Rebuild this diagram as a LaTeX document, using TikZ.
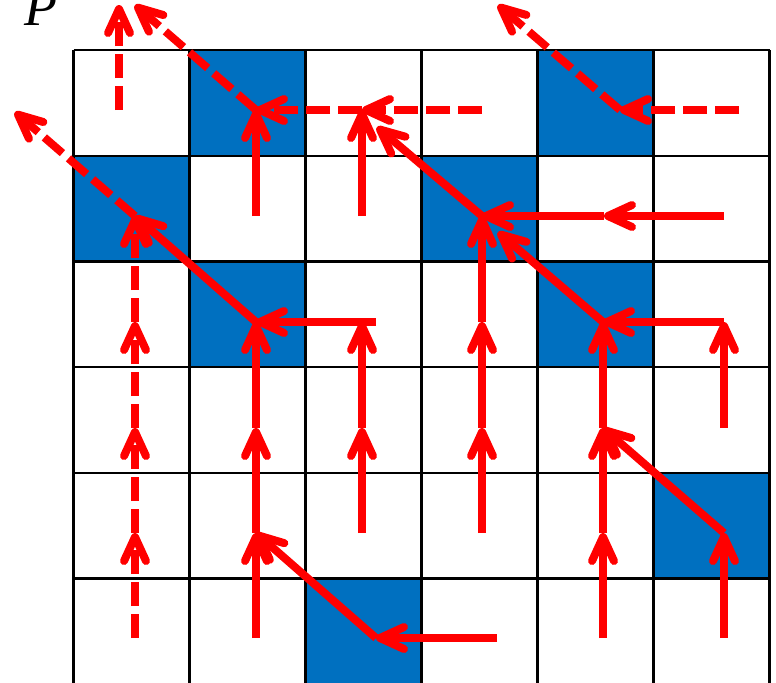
\documentclass[tikz,border=0pt]{standalone}
\usepackage{fontspec}
\setmainfont{Liberation Serif}
\usetikzlibrary{arrows.meta}
\definecolor{cellblue}{HTML}{0070C0}
\tikzset{
  arr/.style={draw=red, line width=4pt, -{Straight Barb[length=12pt,width=11pt,round]}},
  dsh/.style={arr, dash pattern=on 12pt off 4pt},
  gridline/.style={draw=black, line width=1.1pt},
}
\begin{document}
\begin{tikzpicture}[x=0.5pt,y=-0.5pt]
\useasboundingbox (0,0) rectangle (776,682);
% blue cells (col,row)
\foreach \c/\r in {1/0,4/0,0/1,3/1,1/2,4/2,5/4,2/5}
  \fill[cellblue] ({73.5+116*\c},{50+105.7*\r}) rectangle ++(116,105.7);
% grid
\foreach \k in {0,...,6}
  \draw[gridline] ({73.5+116*\k},50) -- ({73.5+116*\k},690);
\foreach \k in {0,...,5}
  \draw[gridline] (73.5,{50+105.7*\k}) -- (769.5,{50+105.7*\k});
% label
\node[anchor=base west, inner sep=0pt, font=\fontsize{27}{27}\selectfont\itshape] (lab) at (24,25) {P};
% points
\coordinate (T0) at (119,110); \coordinate (T0e) at (119,5);
\coordinate (A) at (256,110); \coordinate (Ae) at (135,5);
\coordinate (B) at (362,110); \coordinate (B0) at (482,110);
\coordinate (E) at (620,110); \coordinate (E0) at (739,110); \coordinate (Ee) at (498,5);
\coordinate (D) at (135,216); \coordinate (De) at (15,112);
\coordinate (P11) at (256,216); \coordinate (P12) at (362,216);
\coordinate (C) at (482,216); \coordinate (Cm) at (604,216); \coordinate (C0) at (724,216);
\coordinate (Bt) at (377,127);
\coordinate (P20) at (135,322); \coordinate (F) at (256,322); \coordinate (F0) at (376,322);
\coordinate (P22) at (362,322); \coordinate (P23) at (482,322);
\coordinate (G) at (603,322); \coordinate (G0) at (724,322); \coordinate (Gt) at (498,232);
\coordinate (P25) at (724,322);
\coordinate (P30) at (135,428); \coordinate (P31) at (256,428); \coordinate (P32) at (362,428);
\coordinate (P33) at (482,428); \coordinate (H) at (603,428); \coordinate (P35) at (724,428);
\coordinate (P40) at (135,533); \coordinate (J) at (256,533); \coordinate (P42) at (362,533);
\coordinate (P43) at (482,533); \coordinate (P44) at (603,533); \coordinate (I) at (724,533);
\coordinate (P50) at (135,638); \coordinate (P51) at (256,638); \coordinate (K) at (376,638);
\coordinate (K0) at (497,638); \coordinate (P54) at (603,638); \coordinate (P55) at (724,638);
% dashed arrows
\draw[dsh] (T0) -- (T0e);
\draw[dsh] (A) -- (Ae);
\draw[dsh] (B) -- (A);
\draw[dsh] (B0) -- (B);
\draw[dsh] (E0) -- (E);
\draw[dsh] (E) -- (Ee);
\draw[dsh] (D) -- (De);
\draw[dsh] (P50) -- (P40);
\draw[dsh] (P40) -- (P30);
\draw[dsh] (P30) -- (P20);
\draw[dsh] (P20) -- (D);
% solid arrows
\draw[arr] (P11) -- (A);
\draw[arr] (P12) -- (B);
\draw[arr] (C) -- (Bt);
\draw[arr] (C0) -- (Cm);
\draw[arr] (Cm) -- (C);
\draw[arr] (F) -- (D);
\draw[arr] (F0) -- (F);
\draw[arr] (P32) -- (P22);
\draw[arr] (G) -- (Gt);
\draw[arr] (G0) -- (G);
\draw[arr] (P35) -- (P25);
\draw[arr] (P23) -- (C);
\draw[arr] (P33) -- (P23);
\draw[arr] (H) -- (G);
\draw[arr] (P43) -- (P33);
\draw[arr] (P31) -- (F);
\draw[arr] (J) -- (P31);
\draw[arr] (P42) -- (P32);
\draw[arr] (P44) -- (H);
\draw[arr] (I) -- (H);
\draw[arr] (P51) -- (J);
\draw[arr] (K) -- (J);
\draw[arr] (P54) -- (P44);
\draw[arr] (P55) -- (I);
\draw[arr] (K0) -- (K);
\end{tikzpicture}
\end{document}
